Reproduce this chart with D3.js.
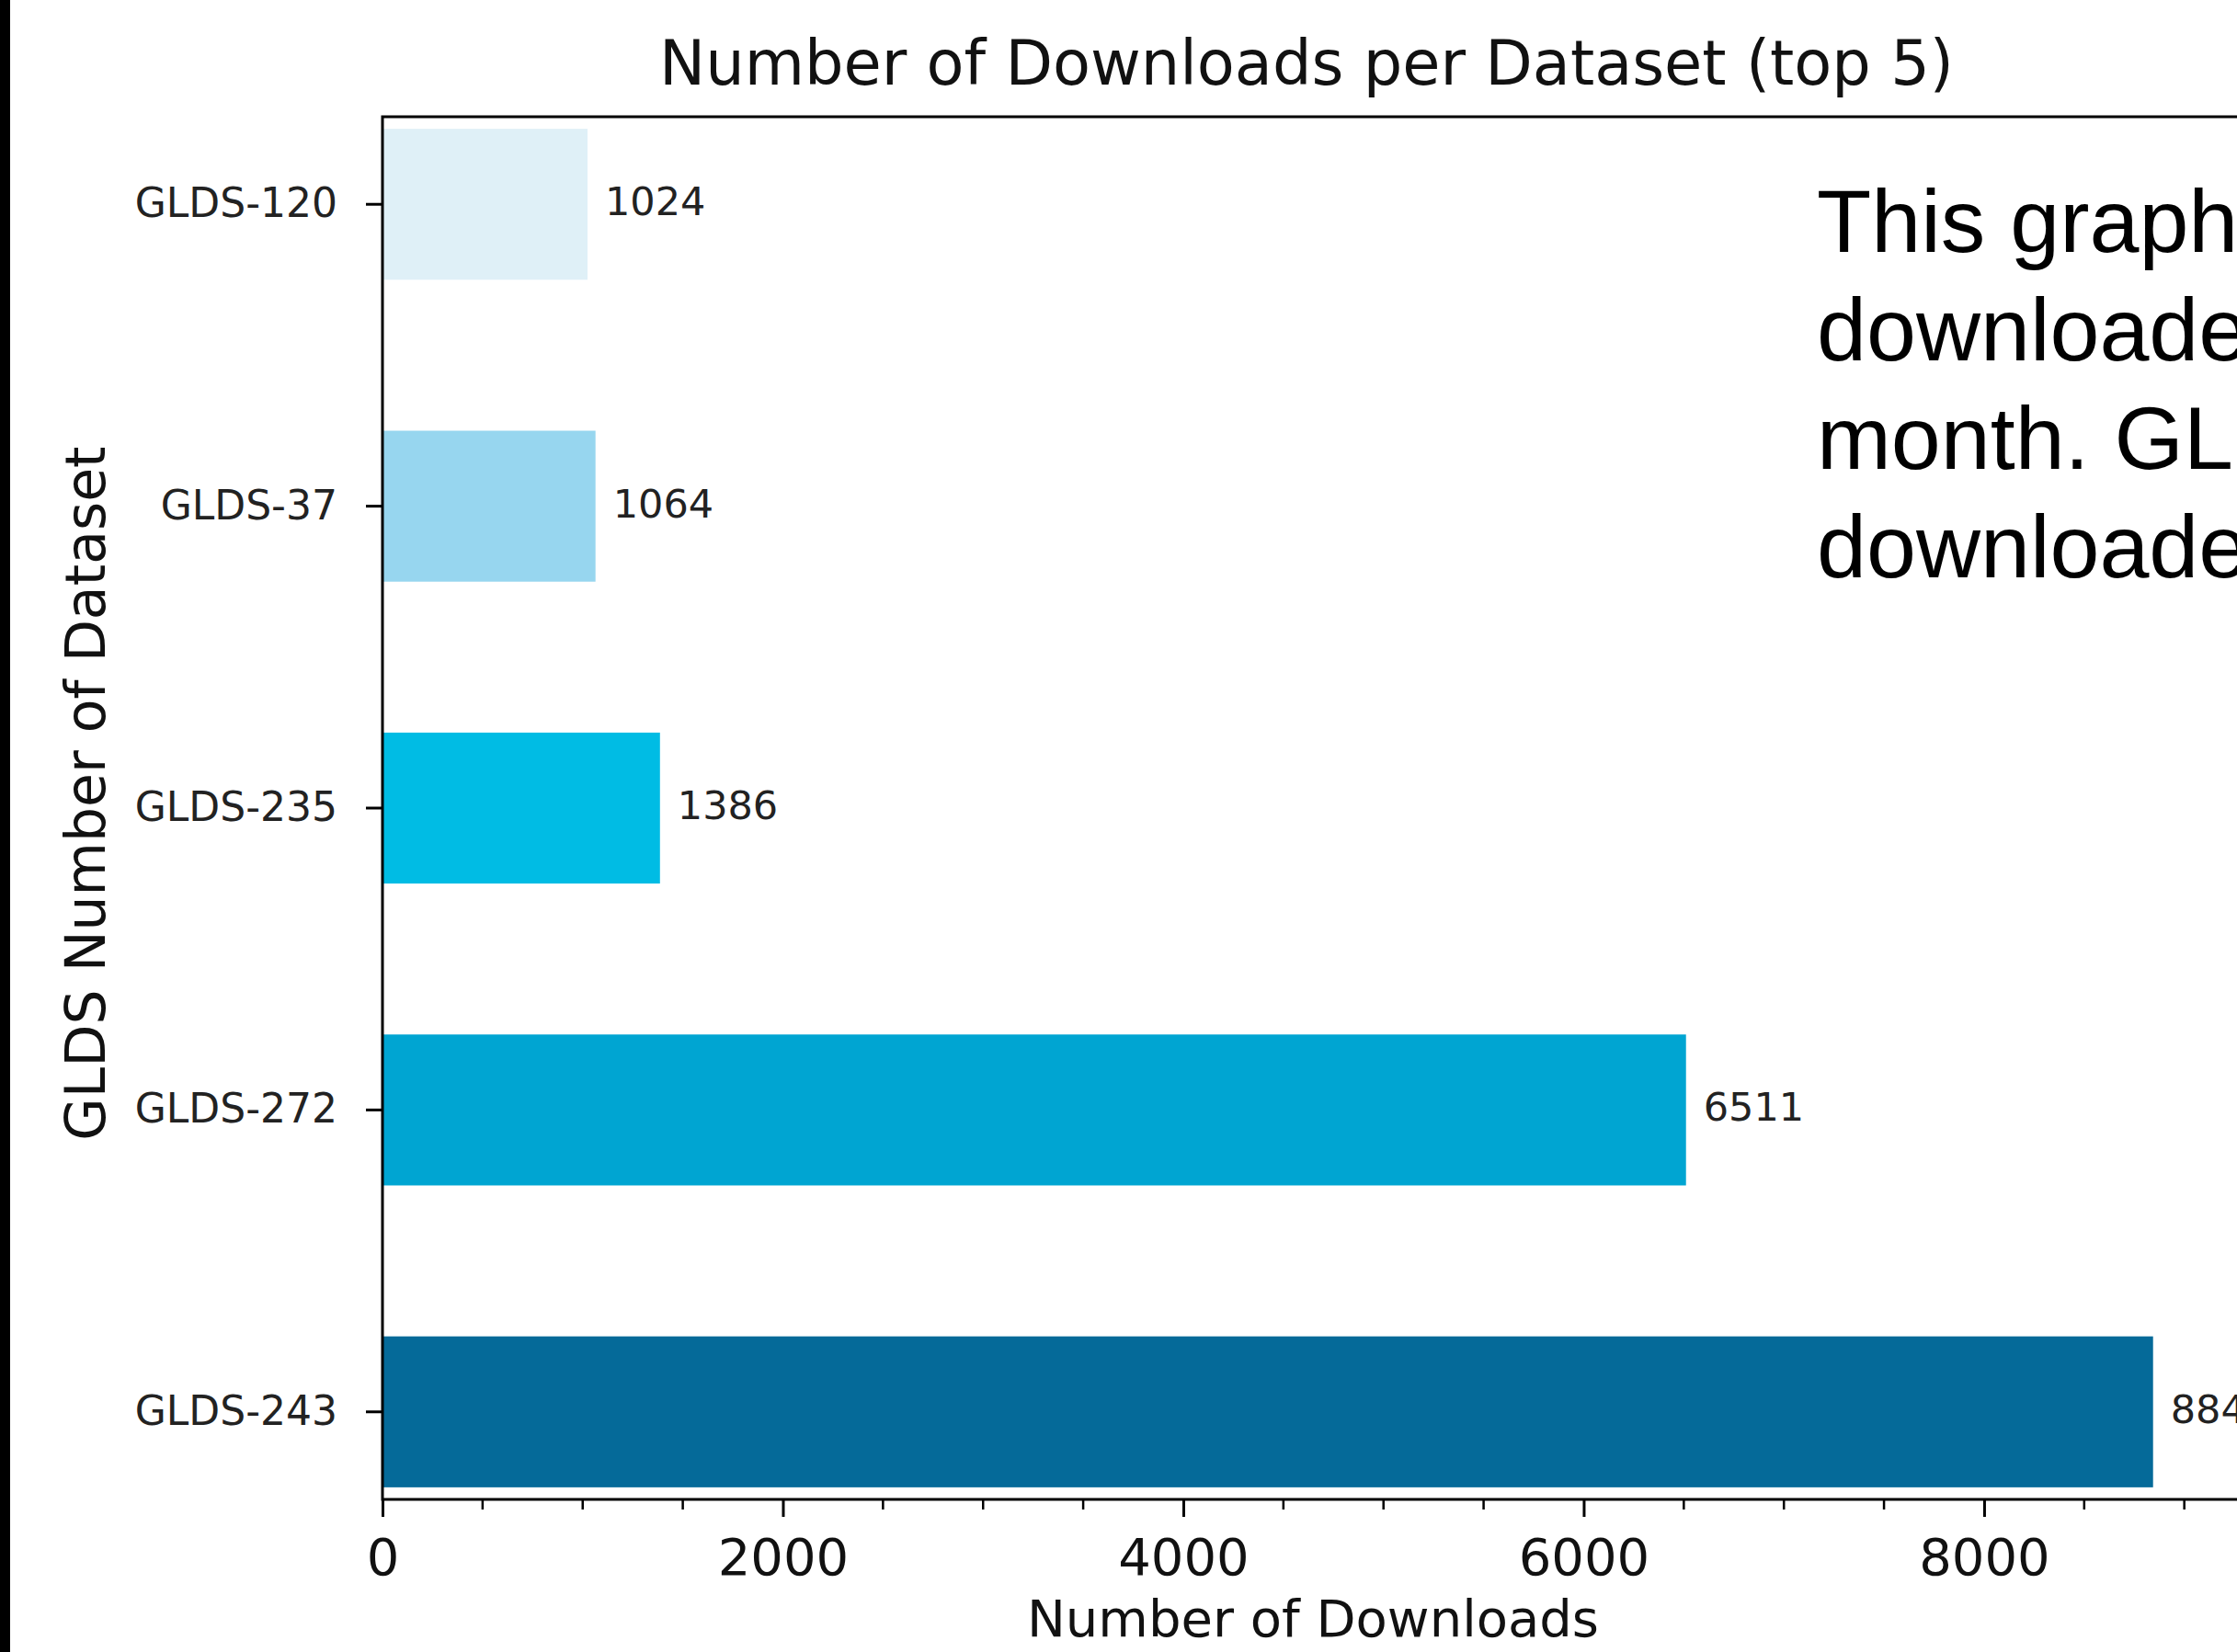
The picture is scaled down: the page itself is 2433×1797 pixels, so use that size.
<!DOCTYPE html>
<html>
<head>
<meta charset="utf-8">
<script src="https://cdn.jsdelivr.net/npm/d3@7"></script>
<style>
  html, body { margin: 0; padding: 0; background: #fff; overflow: hidden; }
  svg { display: block; }
</style>
</head>
<body>
<div id="wrapper"></div>
<script>
const width = 2433,
    height = 1797;

// data
const datasets = ["GLDS-120", "GLDS-37", "GLDS-235", "GLDS-272", "GLDS-243"];
const downloads = [1024, 1064, 1386, 6511, 8844];
const barColors = ["#dff0f7", "#97d6ef", "#00bce4", "#00a5d2", "#056a99"];
const xTicks = [0, 2000, 4000, 6000, 8000];
const noteLines = ["This graph", "downloaded", "month. GLDS-243", "downloaded"];

const margin = {top: 127, left: 416, bottom: height - 1631};
const plotRight = 2438;

const svg = d3.select("#wrapper")
    .append("svg")
    .attr("width", width)
    .attr("height", height)
    .attr("viewBox", [0, 0, width, height]);

svg.append("rect")
    .attr("x", 0).attr("y", 0)
    .attr("width", width).attr("height", height)
    .attr("fill", "#fff");

// dark strip on the left edge of the screenshot
svg.append("rect")
    .attr("x", 0).attr("y", 0)
    .attr("width", 11).attr("height", height)
    .attr("fill", "#000");

const rows = datasets.map((d, i) => ({name: d, value: downloads[i], color: barColors[i]}));

const x = d3.scaleLinear()
    .domain([0, d3.max(downloads) * 1.05])
    .range([margin.left, plotRight]);

const y = d3.scaleBand()
    .domain(datasets)
    .range([margin.top, height - margin.bottom])
    .paddingInner(0.5)
    .paddingOuter(0.04);

// bars
svg.append("g")
    .selectAll("rect")
    .data(rows)
    .join("rect")
    .attr("x", x(0))
    .attr("y", d => y(d.name))
    .attr("width", d => x(d.value) - x(0))
    .attr("height", y.bandwidth())
    .attr("fill", d => d.color);

// value labels
svg.append("g")
    .selectAll("text")
    .data(rows)
    .join("text")
    .attr("x", d => x(d.value) + 19)
    .attr("y", d => y(d.name) + y.bandwidth() / 2 - 3)
    .attr("dy", "0.35em")
    .style("font-family", "'DejaVu Sans'")
    .style("font-size", "43px")
    .style("fill", "#222")
    .text(d => d.value);

// x axis (major + minor ticks)
const xAxis = svg.append("g")
    .attr("transform", `translate(0,${height - margin.bottom})`)
    .call(d3.axisBottom(x).tickValues(xTicks).tickFormat(d3.format("d")).tickSize(19).tickPadding(23));
xAxis.select(".domain").remove();
xAxis.selectAll("line").attr("stroke", "#000").attr("stroke-width", 3);
xAxis.selectAll("text")
    .style("font-family", "'DejaVu Sans'")
    .style("font-size", "56px")
    .style("fill", "#111");

const minorTicks = d3.range(500, x.domain()[1], 500).filter(v => v % 2000 !== 0);
svg.append("g")
    .selectAll("line")
    .data(minorTicks)
    .join("line")
    .attr("x1", d => x(d)).attr("x2", d => x(d))
    .attr("y1", height - margin.bottom)
    .attr("y2", height - margin.bottom + 11)
    .attr("stroke", "#000")
    .attr("stroke-width", 2.5);

// y axis
const yAxis = svg.append("g")
    .attr("transform", `translate(${margin.left},0)`)
    .call(d3.axisLeft(y).tickSize(18).tickPadding(31));
yAxis.select(".domain").remove();
yAxis.selectAll("line").attr("stroke", "#000").attr("stroke-width", 3);
yAxis.selectAll("text")
    .style("font-family", "'DejaVu Sans'")
    .style("font-size", "44px")
    .style("fill", "#222");

// frame
svg.append("rect")
    .attr("x", margin.left)
    .attr("y", margin.top)
    .attr("width", plotRight - margin.left)
    .attr("height", height - margin.bottom - margin.top)
    .attr("fill", "none")
    .attr("stroke", "#000")
    .attr("stroke-width", 3);

// title and axis labels
svg.append("text")
    .attr("x", (margin.left + plotRight) / 2 - 6)
    .attr("y", 92)
    .attr("text-anchor", "middle")
    .style("font-family", "'DejaVu Sans'")
    .style("font-size", "67px")
    .style("fill", "#111")
    .text("Number of Downloads per Dataset (top 5)");

svg.append("text")
    .attr("x", 1428)
    .attr("y", 1780)
    .attr("text-anchor", "middle")
    .style("font-family", "'DejaVu Sans'")
    .style("font-size", "56px")
    .style("fill", "#111")
    .text("Number of Downloads");

svg.append("text")
    .attr("transform", "translate(114,863) rotate(-90)")
    .attr("text-anchor", "middle")
    .style("font-family", "'DejaVu Sans'")
    .style("font-size", "60px")
    .style("fill", "#111")
    .text("GLDS Number of Dataset");

// side note (cut off by the screenshot edge, as in the source)
svg.append("g")
    .selectAll("text")
    .data(noteLines)
    .join("text")
    .attr("x", 1976)
    .attr("y", (d, i) => 274 + i * 118)
    .style("font-family", "'Liberation Sans'")
    .style("font-size", "97px")
    .style("fill", "#000")
    .text(d => d);
</script>
</body>
</html>
